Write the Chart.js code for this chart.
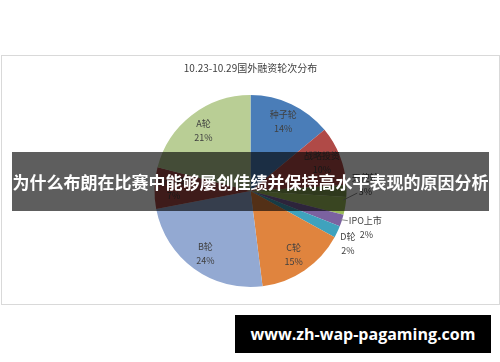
<!DOCTYPE html>
<html lang="zh">
<head>
    <meta charset="UTF-8">
    <title>10.23-10.29国外融资轮次分布</title>
    <script src="https://cdn.jsdelivr.net/npm/chart.js"></script>
    <style>
        body { margin: 0; background: #fff; width: 500px; height: 362px; position: relative; overflow: hidden; }
        #frame { position: absolute; left: 1px; top: 55px; width: 497px; height: 248px; border: 1px solid #d9d9d9; }
        #banner { position: absolute; left: 12px; top: 152px; width: 477px; height: 59px; background: rgba(0,0,0,0.63);
                  color: #fff; font: bold 17px "Noto Sans CJK SC", sans-serif; line-height: 59px; text-align: center; white-space: nowrap; }
        #site { position: absolute; left: 235px; top: 315px; width: 256px; height: 38px; background: #000;
                color: #fff; font: bold 16px "Open Sans", sans-serif; line-height: 38px; text-align: center; }
    </style>
</head>
<body>
    <div id="frame"><canvas id="myChart"></canvas></div>
    <div id="banner">为什么布朗在比赛中能够屡创佳绩并保持高水平表现的原因分析</div>
    <div id="site">www.zh-wap-pagaming.com</div>

    <script>
        // slices in clockwise order from 12 o'clock
        const labels = ['种子轮', '战略投资', '其他', '天使轮', 'IPO上市', 'D轮', 'C轮', 'B轮', 'Pre-A轮', 'A轮'];
        const shares = [14, 10, 2, 3, 2, 2, 15, 24, 7, 21];
        const colors = ['#4a7db8', '#b04a47', '#7f9a50', '#9bbb59', '#7b62a0', '#3fa2bd', '#e0843e', '#93a9d2', '#a94a48', '#b9ce95'];
        // how each label is placed: inside / outside / none
        const labelMode = ['in', 'in', 'none', 'out', 'out', 'out', 'in', 'in', 'in', 'in'];

        const sliceLabels = {
            id: 'sliceLabels',
            afterDatasetsDraw(chart) {
                const ctx = chart.ctx;
                const arcs = chart.getDatasetMeta(0).data;
                ctx.save();
                ctx.font = '9px "Noto Sans CJK SC", sans-serif';
                ctx.fillStyle = '#404040';
                ctx.strokeStyle = '#8c8c8c';
                ctx.lineWidth = 1;
                ctx.textBaseline = 'middle';
                arcs.forEach((arc, i) => {
                    const p = arc.getProps(['x', 'y', 'startAngle', 'endAngle', 'outerRadius'], true);
                    const mid = (p.startAngle + p.endAngle) / 2;
                    const txt = shares[i] + '%';
                    const ex = p.x + Math.cos(mid) * p.outerRadius;
                    const ey = p.y + Math.sin(mid) * p.outerRadius;
                    if (labelMode[i] === 'in') {
                        const r = p.outerRadius * 0.8;
                        const lx = p.x + Math.cos(mid) * r;
                        const ly = p.y + Math.sin(mid) * r;
                        ctx.textAlign = 'center';
                        ctx.fillText(labels[i], lx, ly - 7);
                        ctx.fillText(txt, lx, ly + 7);
                    } else if (labelMode[i] === 'out') {
                        if (labels[i] === 'D轮') {
                            ctx.textAlign = 'left';
                            ctx.fillText(labels[i], ex + 3, ey + 5);
                            ctx.fillText(txt, ex + 4, ey + 19);
                        } else if (labels[i] === 'IPO上市') {
                            ctx.beginPath();
                            ctx.moveTo(ex - 1, ey - 1);
                            ctx.lineTo(ex + 6, ey);
                            ctx.stroke();
                            ctx.textAlign = 'left';
                            ctx.fillText(labels[i], ex + 7, ey);
                            ctx.fillText(txt, ex + 18, ey + 14);
                        } else {
                            ctx.beginPath();
                            ctx.moveTo(ex - 2, ey - 6);
                            ctx.lineTo(ex + 12, ey - 13);
                            ctx.stroke();
                            ctx.textAlign = 'center';
                            ctx.fillText(labels[i], ex + 20, ey - 28);
                            ctx.fillText(txt, ex + 20, ey - 14);
                        }
                    }
                });
                ctx.restore();
            }
        };

        const ctx = document.getElementById('myChart').getContext('2d');
        new Chart(ctx, {
            type: 'pie',
            data: {
                labels: labels,
                datasets: [{
                    data: shares,
                    backgroundColor: colors,
                    borderWidth: 0
                }]
            },
            options: {
                responsive: true,
                maintainAspectRatio: false,
                animation: false,
                layout: { padding: { bottom: 17 } },
                plugins: {
                    legend: { display: false },
                    tooltip: { enabled: false },
                    title: {
                        display: true,
                        text: '10.23-10.29国外融资轮次分布',
                        color: '#404040',
                        font: { family: '"Noto Sans CJK SC", sans-serif', size: 10, weight: 'normal' },
                        padding: { top: 6, bottom: 21 }
                    }
                }
            },
            plugins: [sliceLabels]
        });
    </script>
</body>
</html>
